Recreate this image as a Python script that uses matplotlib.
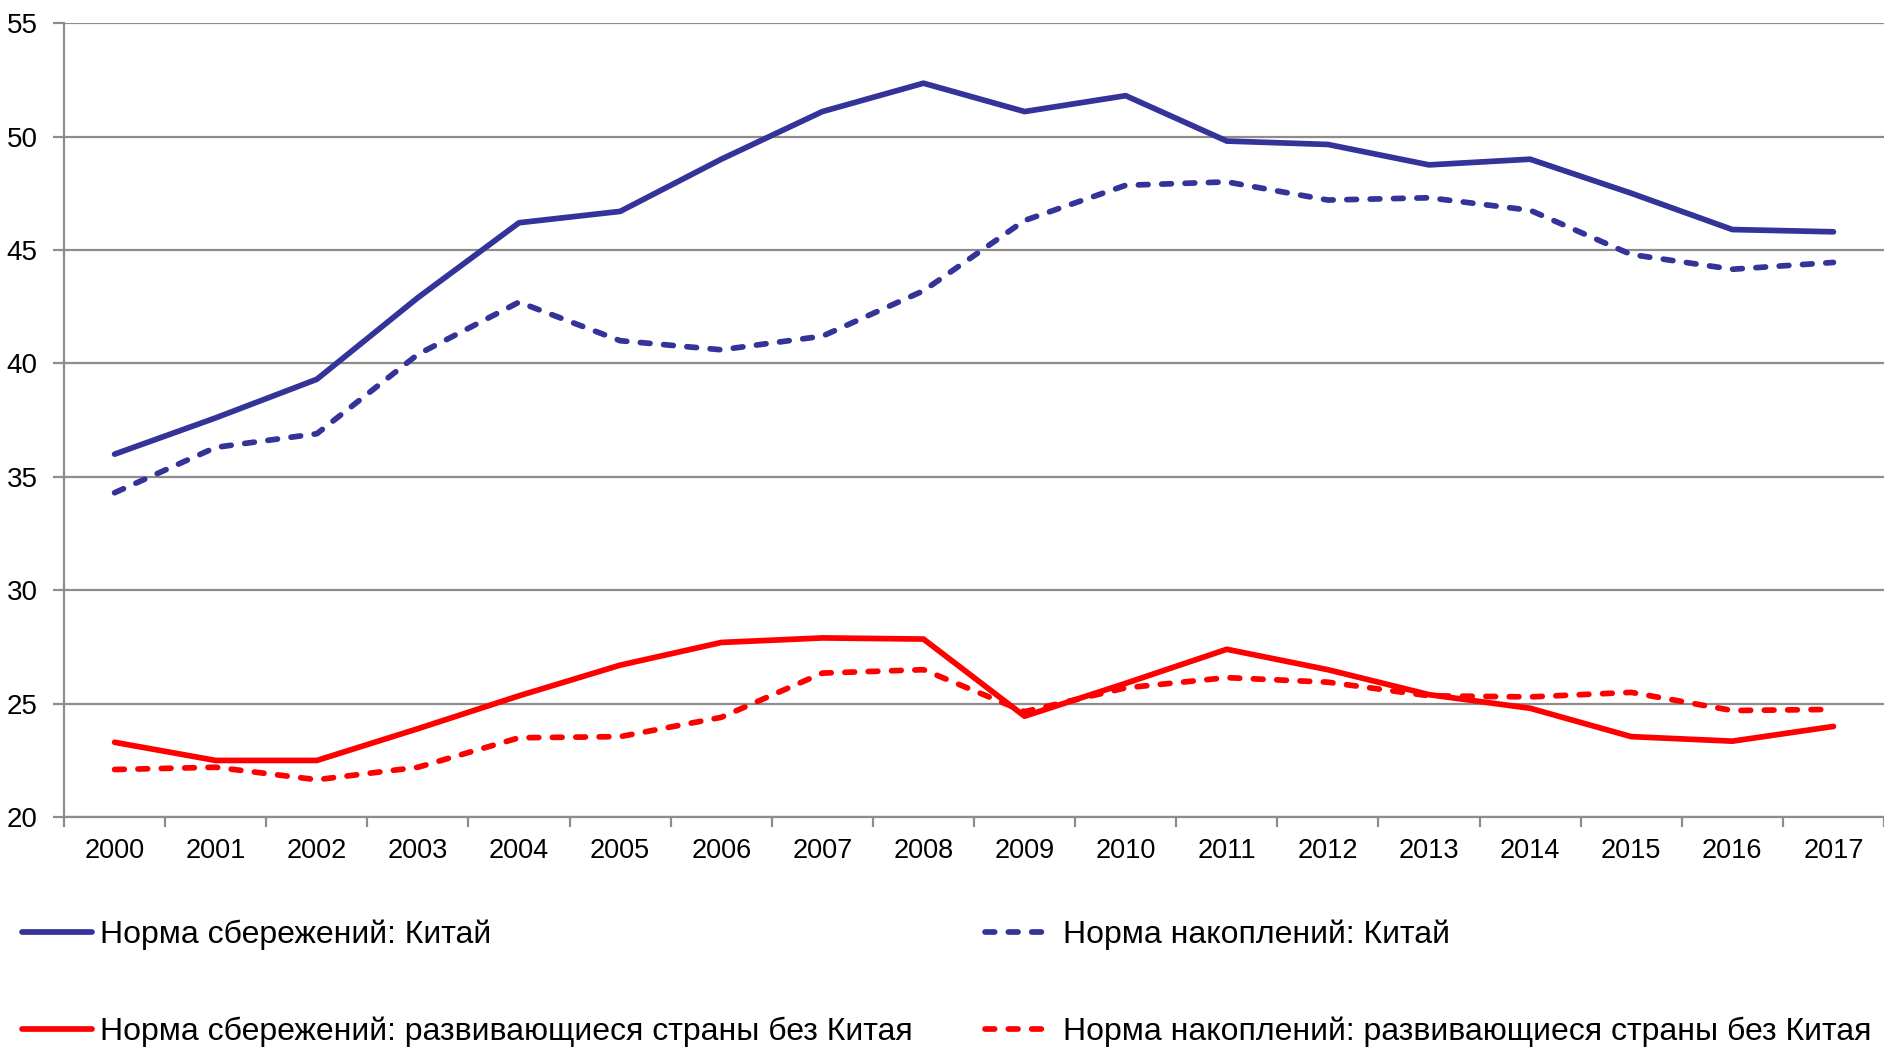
import numpy as np
import matplotlib
matplotlib.use('Agg')
from matplotlib import pyplot as plt

plt.rcParams['font.family'] = ['Liberation Sans', 'DejaVu Sans']

years = ['2000', '2001', '2002', '2003', '2004', '2005', '2006', '2007', '2008',
         '2009', '2010', '2011', '2012', '2013', '2014', '2015', '2016', '2017']

savings_china = [36.0, 37.6, 39.3, 42.9, 46.2, 46.7, 49.0, 51.1, 52.35,
                 51.1, 51.8, 49.8, 49.65, 48.75, 49.0, 47.5, 45.9, 45.8]
invest_china = [34.3, 36.3, 36.9, 40.4, 42.7, 41.0, 40.6, 41.2, 43.2,
                46.3, 47.85, 48.0, 47.2, 47.3, 46.75, 44.8, 44.15, 44.45]
savings_em = [23.3, 22.5, 22.5, 23.9, 25.35, 26.7, 27.7, 27.9, 27.85,
              24.45, 25.9, 27.4, 26.5, 25.4, 24.8, 23.55, 23.35, 24.0]
invest_em = [22.1, 22.2, 21.65, 22.2, 23.5, 23.55, 24.4, 26.35, 26.5,
             24.65, 25.7, 26.15, 25.95, 25.35, 25.3, 25.5, 24.7, 24.75]

labels = ['Норма сбережений: Китай',
          'Норма накоплений: Китай',
          'Норма сбережений: развивающиеся страны без Китая',
          'Норма накоплений: развивающиеся страны без Китая']

blue = '#333399'
red = '#ff0000'
grey = '#8c8c8c'

fig = plt.figure(figsize=(18.84, 10.49), dpi=100)
ax = fig.add_axes([0.034, 0.221, 0.966, 0.757])

x = np.arange(len(years))
lw = 4.1
dash = (1.7, 2.4)

l1, = ax.plot(x, savings_china, color=blue, lw=lw, solid_capstyle='round')
l2, = ax.plot(x, invest_china, color=blue, lw=lw, dashes=dash, dash_capstyle='round')
l3, = ax.plot(x, savings_em, color=red, lw=lw, solid_capstyle='round')
l4, = ax.plot(x, invest_em, color=red, lw=lw, dashes=dash, dash_capstyle='round')

ax.set_xlim(-0.5, len(years) - 0.5)
ax.set_ylim(20, 55)
ax.set_yticks(range(20, 56, 5))
ax.yaxis.grid(True, color=grey, lw=1.6)
ax.set_axisbelow(True)

ax.set_xticks(x)
ax.set_xticklabels(years)
ax.set_xticks(np.arange(-0.5, len(years), 1), minor=True)
ax.tick_params(axis='x', which='major', length=0, pad=15, labelsize=19.5)
ax.tick_params(axis='x', which='minor', length=7, width=1.6, color=grey)
ax.tick_params(axis='y', length=8, width=1.6, color=grey, pad=11, labelsize=20)

for s in ['top', 'right']:
    ax.spines[s].set_visible(False)
for s in ['left', 'bottom']:
    ax.spines[s].set_color(grey)
    ax.spines[s].set_linewidth(1.6)

fig.legend([l1, l3, l2, l4], [labels[0], labels[2], labels[1], labels[3]],
           ncol=2, loc='lower left', bbox_to_anchor=(0.0117, 0.002),
           frameon=False, fontsize=23, handlelength=2.2, handletextpad=0.25,
           labelspacing=2.07, columnspacing=2.25, borderpad=0, borderaxespad=0)

fig.savefig('out.png', dpi=100)
